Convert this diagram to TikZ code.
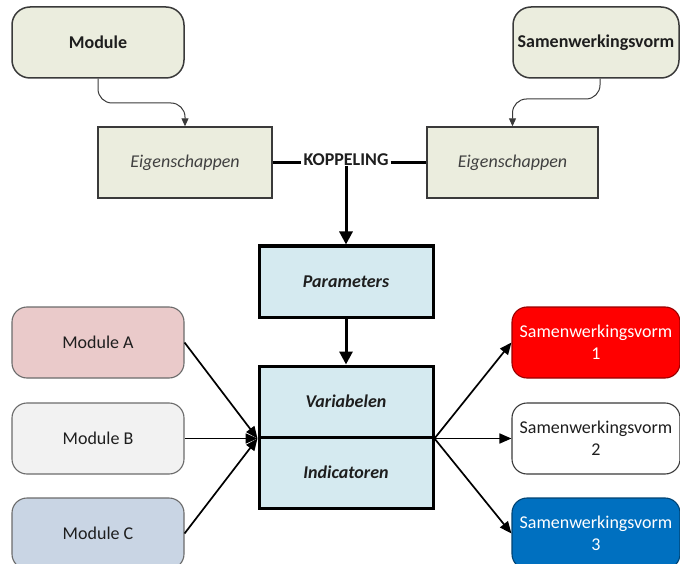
\documentclass[tikz,border=0pt]{standalone}
\usepackage{fontspec}
\setmainfont{Carlito}
\usetikzlibrary{arrows.meta}
\definecolor{beige}{HTML}{EBEDDE}
\definecolor{lblue}{HTML}{D5EAF0}
\definecolor{pinkA}{HTML}{EACACA}
\definecolor{greyB}{HTML}{F2F2F2}
\definecolor{blueC}{HTML}{C9D5E4}
\definecolor{redS}{HTML}{FF0000}
\definecolor{blueS}{HTML}{0070C0}
\definecolor{ink}{HTML}{1E1E1E}
\definecolor{edge}{HTML}{3A3A3A}
\begin{document}
\begin{tikzpicture}[x=1pt,y=-1pt,
  every node/.style={font=\fontsize{18}{22}\selectfont, text=ink, inner sep=0pt},
  topbox/.style={draw=edge, line width=1.5pt, fill=beige, rounded corners=18pt,
    minimum width=172pt, minimum height=71pt, font=\fontsize{18}{22}\selectfont\bfseries},
  propbox/.style={draw=edge, line width=1.4pt, fill=beige, text=ink!85,
    minimum width=174pt, minimum height=71pt, font=\fontsize{18}{22}\selectfont\itshape},
  corebox/.style={draw=black, line width=3pt, fill=lblue,
    minimum width=174pt, minimum height=71pt, font=\fontsize{18}{22}\selectfont\bfseries\itshape},
  modbox/.style={draw=edge!75, line width=1.1pt, rounded corners=15pt,
    minimum width=172pt, minimum height=71pt},
  formbox/.style={draw=edge, line width=1.1pt, rounded corners=15pt,
    minimum width=168pt, minimum height=71pt, align=center},
  curvearrow/.style={draw=edge, line width=1pt, rounded corners=14pt, -{Triangle[length=8pt,width=7pt]}},
  boldarrow/.style={draw=black, line width=3pt, -{Triangle[length=13pt,width=13pt]}},
  flowarrow/.style={draw=black, line width=1.7pt, -{Triangle[length=12pt,width=10pt]}}
]
\useasboundingbox (0,0) rectangle (680,564);
\clip (0,0) rectangle (680,564);

% top row
\node[topbox] (mod) at (98,42.5) {Module};
\node[topbox, minimum width=166pt] (sam) at (596,42.5) {Samenwerkingsvorm};

% property boxes and coupling
\node[propbox] (eigL) at (185,162.5) {Eigenschappen};
\node[propbox, minimum width=171pt] (eigR) at (512.5,162.5) {Eigenschappen};
\node[font=\fontsize{18}{22}\selectfont\bfseries, inner xsep=2pt] (kop) at (346,160) {KOPPELING};
\draw[line width=3pt] (eigL.east) -- (eigL.east -| kop.west);
\draw[line width=3pt] (eigR.west -| kop.east) -- (eigR.west);

\draw[curvearrow] (mod.south) |- (eigL.north |- 0,103) -- (eigL.north);
\draw[curvearrow] (sam.south -| 600,0) |- (eigR.north |- 0,99) -- (eigR.north);

% core chain
\node[corebox] (par) at (346,281.5) {Parameters};
\node[corebox] (var) at (346,401.5) {Variabelen};
\node[corebox] (ind) at (346,472.5) {Indicatoren};
\draw[boldarrow] (kop.south) -- (par.north);
\draw[boldarrow] (par.south) -- (var.north);

% modules
\node[modbox, fill=pinkA] (ma) at (98,342.5) {Module A};
\node[modbox, fill=greyB] (mb) at (98,438.5) {Module B};
\node[modbox, fill=blueC] (mc) at (98,533.5) {Module C};
\coordinate (jin) at (var.south west);
\draw[flowarrow] (ma.east) -- (jin);
\draw[flowarrow] (mb.east) -- (jin);
\draw[flowarrow] (mc.east) -- (jin);

% forms of cooperation
\node[formbox, fill=redS, draw=redS!60!black, text=white] (s1) at (596,342.5) {Samenwerkingsvorm\\1};
\node[formbox, fill=white] (s2) at (596,438.5) {Samenwerkingsvorm\\2};
\node[formbox, fill=blueS, draw=blueS!60!black, text=white] (s3) at (596,533.5) {Samenwerkingsvorm\\3};
\coordinate (jout) at (var.south east);
\draw[flowarrow] (jout) -- (s1.west);
\draw[flowarrow] (jout) -- (s2.west);
\draw[flowarrow] (jout) -- (s3.west);
\end{tikzpicture}
\end{document}
